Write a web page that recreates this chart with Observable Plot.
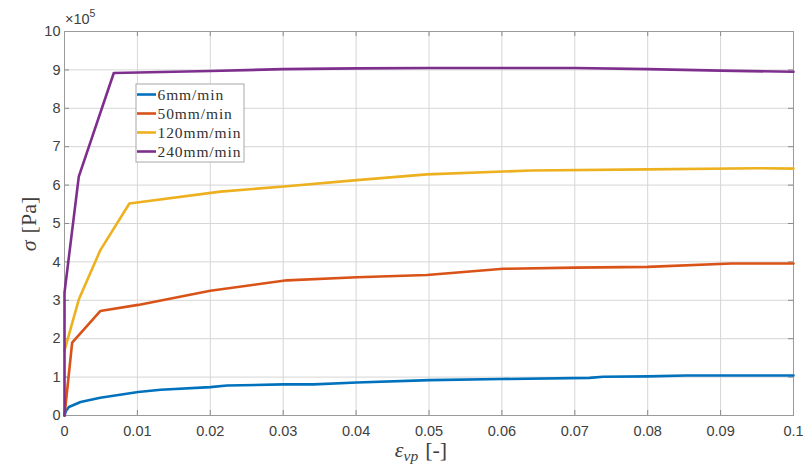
<!DOCTYPE html>
<html>
<head>
<meta charset="utf-8">
<script src="https://cdn.jsdelivr.net/npm/d3@7"></script>
<script src="https://cdn.jsdelivr.net/npm/@observablehq/plot@0.6"></script>
<style>
  html, body { margin: 0; padding: 0; background: #fff; }
  #chart { width: 803px; height: 470px; }
</style>
</head>
<body>
<div id="chart"></div>
<script>
// ---- data ----
const seriesNames = ["6mm/min", "50mm/min", "120mm/min", "240mm/min"];
const seriesColors = ["#0072BD", "#D95319", "#EDB120", "#7E2F8E"];

const strain6   = [0, 0.0002, 0.0006, 0.0022, 0.0049, 0.0101, 0.0132, 0.02, 0.0223, 0.030, 0.0342, 0.0401, 0.0501, 0.060, 0.072, 0.0739, 0.080, 0.0853, 0.1];
const stress6   = [0, 0.12, 0.22, 0.35, 0.46, 0.61, 0.67, 0.74, 0.78, 0.81, 0.81, 0.86, 0.92, 0.95, 0.98, 1.01, 1.02, 1.04, 1.04];

const strain50  = [0, 0.00105, 0.0049, 0.0101, 0.02, 0.0305, 0.0401, 0.0497, 0.0602, 0.07, 0.08, 0.0915, 0.1];
const stress50  = [0, 1.9, 2.72, 2.88, 3.25, 3.52, 3.6, 3.66, 3.82, 3.85, 3.87, 3.96, 3.96];

const strain120 = [0, 0.00196, 0.0049, 0.0089, 0.0214, 0.0305, 0.0401, 0.0497, 0.064, 0.08, 0.095, 0.1];
const stress120 = [1.69, 3.02, 4.3, 5.52, 5.83, 5.97, 6.13, 6.28, 6.38, 6.41, 6.44, 6.43];

const strain240 = [0, 0, 0.00196, 0.00676, 0.02, 0.03, 0.04, 0.05, 0.06, 0.07, 0.08, 0.09, 0.1];
const stress240 = [0, 3.2, 6.22, 8.92, 8.97, 9.02, 9.04, 9.05, 9.05, 9.05, 9.02, 8.98, 8.95];

const xTicks = [0, 0.01, 0.02, 0.03, 0.04, 0.05, 0.06, 0.07, 0.08, 0.09, 0.1];
const xTickLabels = ["0", "0.01", "0.02", "0.03", "0.04", "0.05", "0.06", "0.07", "0.08", "0.09", "0.1"];
const yTicks = [0, 1, 2, 3, 4, 5, 6, 7, 8, 9, 10];

// ---- build table ----
const strains = [strain6, strain50, strain120, strain240];
const stresses = [stress6, stress50, stress120, stress240];
const data = seriesNames.flatMap((name, i) =>
  strains[i].map((s, j) => ({series: name, strain: s, stress: stresses[i][j]}))
);

const plotH = 470 - 31 - 55;
const plotW = 803 - 64 - 10;

const plot = Plot.plot({
  width: 803,
  height: 470,
  marginLeft: 64,
  marginRight: 10,
  marginTop: 31,
  marginBottom: 55,
  style: {background: "#fff", color: "#404040", fontFamily: "'Liberation Sans', Arial, sans-serif", fontSize: "14px"},
  x: {type: "linear", domain: [0, 0.1], label: null},
  y: {type: "linear", domain: [0, 10], label: null},
  color: {domain: seriesNames, range: seriesColors},
  marks: [
    Plot.gridX(xTicks, {stroke: "#d6d6d6", strokeOpacity: 1}),
    Plot.gridY(yTicks, {stroke: "#d6d6d6", strokeOpacity: 1}),
    Plot.axisX(xTicks, {tickSize: 0, tickPadding: 10, tickFormat: (d, i) => xTickLabels[i], fill: "#404040", fontSize: 14.5}),
    Plot.axisY(yTicks, {tickSize: 0, tickPadding: 4, tickFormat: d => String(d), fill: "#404040", fontSize: 14.5}),
    // inward tick marks (MATLAB style) on all four sides
    Plot.ruleX(xTicks, {insetTop: plotH - 5, stroke: "#8a8a8a"}),
    Plot.ruleX(xTicks, {insetBottom: plotH - 5, stroke: "#8a8a8a"}),
    Plot.ruleY(yTicks, {insetRight: plotW - 5, stroke: "#8a8a8a"}),
    Plot.ruleY(yTicks, {insetLeft: plotW - 5, stroke: "#8a8a8a"}),
    Plot.frame({stroke: "#9a9a9a"}),
    Plot.line(data, {x: "strain", y: "stress", z: "series", stroke: "series", strokeWidth: 2.6, strokeLinejoin: "round"})
  ]
});

document.getElementById("chart").appendChild(plot);

// ---- annotations (axis titles, exponent, legend) ----
const svg = d3.select(plot);
const serif = "'Liberation Serif', 'DejaVu Serif', serif";

// x label
const xl = svg.append("text")
  .attr("x", 421).attr("y", 457)
  .attr("text-anchor", "middle")
  .attr("font-family", serif).attr("font-size", 22).attr("fill", "#404040");
xl.append("tspan").attr("font-style", "italic").text("ε");
xl.append("tspan").attr("font-style", "italic").attr("font-size", 15.5).attr("dy", 4).text("vp");
xl.append("tspan").attr("dy", -4).attr("dx", 7).text("[-]");

// y label
const yl = svg.append("text")
  .attr("transform", "translate(36,224) rotate(-90)")
  .attr("text-anchor", "middle")
  .attr("font-family", serif).attr("font-size", 22).attr("fill", "#404040");
yl.append("tspan").attr("font-style", "italic").text("σ");
yl.append("tspan").attr("dx", 7).text("[Pa]");

// exponent
const ex = svg.append("text")
  .attr("x", 65).attr("y", 24)
  .attr("text-anchor", "start")
  .attr("font-family", "'Liberation Sans', Arial, sans-serif").attr("font-size", 14.5).attr("fill", "#404040");
ex.append("tspan").text("×10");
ex.append("tspan").attr("dy", -7).attr("font-size", 10.5).text("5");

// legend
const lg = svg.append("g");
lg.append("rect").attr("x", 136).attr("y", 84).attr("width", 108).attr("height", 78)
  .attr("fill", "#fff").attr("stroke", "#a8a8a8").attr("stroke-width", 1);
seriesNames.forEach((name, i) => {
  const y = 94.5 + 19 * i;
  lg.append("line").attr("x1", 137).attr("x2", 156).attr("y1", y).attr("y2", y)
    .attr("stroke", seriesColors[i]).attr("stroke-width", 2.6);
  lg.append("text").attr("x", 157.5).attr("y", y + 5)
    .attr("text-anchor", "start")
    .attr("font-family", serif).attr("font-size", 15.5).attr("letter-spacing", 0.9)
    .attr("fill", "#333").text(name);
});
</script>
</body>
</html>
